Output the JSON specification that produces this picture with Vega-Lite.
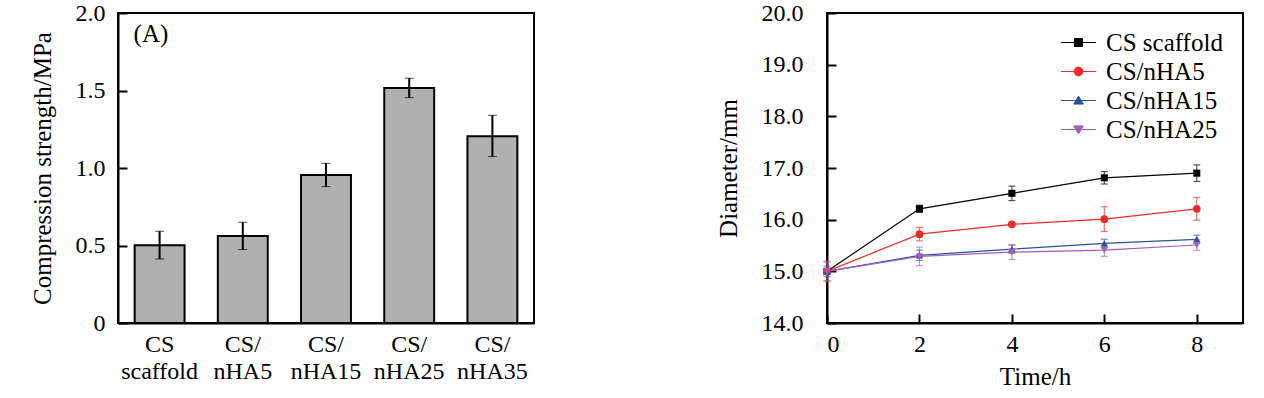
{
  "$schema": "https://vega.github.io/schema/vega-lite/v6.json",
  "padding": {"left": 29, "top": 0, "right": 0, "bottom": 0},
  "spacing": 180,
  "config": {
    "font": "Liberation Serif",
    "view": {"stroke": "black", "strokeWidth": 2},
    "axis": {
      "domainColor": "black", "domainWidth": 2,
      "tickColor": "black", "tickWidth": 2, "tickSize": -9,
      "labelColor": "black", "titleColor": "black",
      "labelFont": "Liberation Serif", "titleFont": "Liberation Serif",
      "labelFontSize": 24, "titleFontSize": 25, "titleFontWeight": "normal",
      "grid": false
    }
  },
  "hconcat": [
    {
      "width": 416,
      "height": 310,
      "data": {"values": [
        {"Group": "CS scaffold", "Strength": 0.501, "Lo": 0.413, "Hi": 0.592},
        {"Group": "CS/nHA5", "Strength": 0.561, "Lo": 0.474, "Hi": 0.65},
        {"Group": "CS/nHA15", "Strength": 0.955, "Lo": 0.88, "Hi": 1.03},
        {"Group": "CS/nHA25", "Strength": 1.516, "Lo": 1.454, "Hi": 1.579},
        {"Group": "CS/nHA35", "Strength": 1.205, "Lo": 1.074, "Hi": 1.34}
      ]},
      "layer": [
        {
          "mark": {"type": "bar", "fill": "#b0b0b0", "stroke": "black", "strokeWidth": 2},
          "encoding": {
            "x": {"field": "Group", "type": "nominal", "sort": null,
              "scale": {"paddingInner": 0.4, "paddingOuter": 0.2},
              "axis": {"title": null, "labelAngle": 0, "ticks": false, "labelPadding": 9,
                "labelFontSize": 24, "labelLineHeight": 27,
                "labelExpr": "datum.label == 'CS scaffold' ? ['CS', 'scaffold'] : ['CS/', substring(datum.label, 3)]"}},
            "y": {"field": "Strength", "type": "quantitative", "title": "Compression strength/MPa",
              "scale": {"domain": [0, 2]},
              "axis": {"values": [0, 0.5, 1, 1.5, 2],
                "labelExpr": "datum.value == 0 ? '0' : format(datum.value, '.1f')",
                "labelPadding": 22, "titlePadding": 20}}
          }
        },
        {
          "mark": {"type": "errorbar", "ticks": {"size": 9, "color": "black", "strokeWidth": 2}, "rule": {"color": "black", "strokeWidth": 2}},
          "encoding": {
            "x": {"field": "Group", "type": "nominal", "sort": null},
            "y": {"field": "Lo", "type": "quantitative", "title": "Compression strength/MPa"},
            "y2": {"field": "Hi"}
          }
        },
        {
          "data": {"values": [{"label": "(A)"}]},
          "mark": {"type": "text", "align": "left", "baseline": "middle", "fontSize": 25, "dx": -26, "color": "black"},
          "encoding": {
            "x": {"datum": "CS scaffold"},
            "y": {"datum": 1.863},
            "text": {"field": "label"}
          }
        }
      ]
    },
    {
      "width": 416,
      "height": 310,
      "data": {"values": [
        {"Series": "CS scaffold", "Time": 0, "D": 15.0, "Lo": 14.96, "Hi": 15.04},
        {"Series": "CS scaffold", "Time": 2, "D": 16.21, "Lo": 16.14, "Hi": 16.28},
        {"Series": "CS scaffold", "Time": 4, "D": 16.51, "Lo": 16.37, "Hi": 16.65},
        {"Series": "CS scaffold", "Time": 6, "D": 16.81, "Lo": 16.69, "Hi": 16.93},
        {"Series": "CS scaffold", "Time": 8, "D": 16.9, "Lo": 16.74, "Hi": 17.06},
        {"Series": "CS/nHA5", "Time": 0, "D": 15.0, "Lo": 14.82, "Hi": 15.18},
        {"Series": "CS/nHA5", "Time": 2, "D": 15.72, "Lo": 15.59, "Hi": 15.85},
        {"Series": "CS/nHA5", "Time": 4, "D": 15.91, "Lo": 15.88, "Hi": 15.94},
        {"Series": "CS/nHA5", "Time": 6, "D": 16.01, "Lo": 15.77, "Hi": 16.25},
        {"Series": "CS/nHA5", "Time": 8, "D": 16.21, "Lo": 15.99, "Hi": 16.43},
        {"Series": "CS/nHA15", "Time": 0, "D": 15.0, "Lo": 14.9, "Hi": 15.1},
        {"Series": "CS/nHA15", "Time": 2, "D": 15.31, "Lo": 15.21, "Hi": 15.41},
        {"Series": "CS/nHA15", "Time": 4, "D": 15.43, "Lo": 15.35, "Hi": 15.51},
        {"Series": "CS/nHA15", "Time": 6, "D": 15.54, "Lo": 15.46, "Hi": 15.62},
        {"Series": "CS/nHA15", "Time": 8, "D": 15.62, "Lo": 15.54, "Hi": 15.7},
        {"Series": "CS/nHA25", "Time": 0, "D": 15.0, "Lo": 14.8, "Hi": 15.2},
        {"Series": "CS/nHA25", "Time": 2, "D": 15.29, "Lo": 15.11, "Hi": 15.47},
        {"Series": "CS/nHA25", "Time": 4, "D": 15.37, "Lo": 15.23, "Hi": 15.51},
        {"Series": "CS/nHA25", "Time": 6, "D": 15.41, "Lo": 15.29, "Hi": 15.53},
        {"Series": "CS/nHA25", "Time": 8, "D": 15.51, "Lo": 15.41, "Hi": 15.61}
      ]},
      "layer": [
        {
          "mark": {"type": "line", "strokeWidth": 1.2},
          "encoding": {
            "x": {"field": "Time", "type": "quantitative", "title": "Time/h",
              "scale": {"domain": [0, 9]},
              "axis": {"values": [0, 2, 4, 6, 8], "labelPadding": 18, "titlePadding": 8}},
            "y": {"field": "D", "type": "quantitative", "title": "Diameter/mm",
              "scale": {"domain": [14, 20]},
              "axis": {"values": [14, 15, 16, 17, 18, 19, 20], "format": ".1f", "labelPadding": 33, "titlePadding": 20}},
            "color": {"field": "Series", "type": "nominal",
              "sort": ["CS scaffold", "CS/nHA5", "CS/nHA15", "CS/nHA25"],
              "scale": {"range": ["#000000", "#ee2a2a", "#2c4fa3", "#a45fb5"]},
              "legend": null}
          }
        },
        {
          "mark": {"type": "errorbar", "ticks": {"size": 7}, "opacity": 0.65, "thickness": 1.2},
          "encoding": {
            "x": {"field": "Time", "type": "quantitative", "title": "Time/h"},
            "y": {"field": "Lo", "type": "quantitative", "title": "Diameter/mm"},
            "y2": {"field": "Hi"},
            "color": {"field": "Series", "type": "nominal", "sort": ["CS scaffold", "CS/nHA5", "CS/nHA15", "CS/nHA25"], "legend": null}
          }
        },
        {
          "transform": [{"filter": "datum.Series == 'CS scaffold'"}],
          "mark": {"type": "point", "shape": "square", "filled": true, "size": 50, "opacity": 1},
          "encoding": {
            "x": {"field": "Time", "type": "quantitative", "title": "Time/h"},
            "y": {"field": "D", "type": "quantitative", "title": "Diameter/mm"},
            "color": {"field": "Series", "type": "nominal", "sort": ["CS scaffold", "CS/nHA5", "CS/nHA15", "CS/nHA25"], "legend": null}
          }
        },
        {
          "transform": [{"filter": "datum.Series == 'CS/nHA5'"}],
          "mark": {"type": "point", "shape": "circle", "filled": true, "size": 60, "opacity": 1},
          "encoding": {
            "x": {"field": "Time", "type": "quantitative", "title": "Time/h"},
            "y": {"field": "D", "type": "quantitative", "title": "Diameter/mm"},
            "color": {"field": "Series", "type": "nominal", "sort": ["CS scaffold", "CS/nHA5", "CS/nHA15", "CS/nHA25"], "legend": null}
          }
        },
        {
          "transform": [{"filter": "datum.Series == 'CS/nHA15'"}],
          "mark": {"type": "point", "shape": "triangle-up", "filled": true, "size": 55, "opacity": 1},
          "encoding": {
            "x": {"field": "Time", "type": "quantitative", "title": "Time/h"},
            "y": {"field": "D", "type": "quantitative", "title": "Diameter/mm"},
            "color": {"field": "Series", "type": "nominal", "sort": ["CS scaffold", "CS/nHA5", "CS/nHA15", "CS/nHA25"], "legend": null}
          }
        },
        {
          "transform": [{"filter": "datum.Series == 'CS/nHA25'"}],
          "mark": {"type": "point", "shape": "triangle-down", "filled": true, "size": 55, "opacity": 1},
          "encoding": {
            "x": {"field": "Time", "type": "quantitative", "title": "Time/h"},
            "y": {"field": "D", "type": "quantitative", "title": "Diameter/mm"},
            "color": {"field": "Series", "type": "nominal", "sort": ["CS scaffold", "CS/nHA5", "CS/nHA15", "CS/nHA25"], "legend": null}
          }
        },
        {
          "transform": [{"filter": "datum.Time < 0"}],
          "mark": {"type": "point", "filled": false, "opacity": 1},
          "encoding": {
            "fill": {"field": "Series", "type": "nominal",
              "scale": {"domain": ["CS scaffold", "CS/nHA5", "CS/nHA15", "CS/nHA25"], "range": ["#000000", "#ee2a2a", "#2c4fa3", "#a45fb5"]},
              "legend": {"title": null, "orient": "none", "legendX": 948, "legendY": 17, "padding": 0, "labelFontSize": 25, "labelFont": "Liberation Serif", "labelColor": "black", "symbolSize": 64, "symbolStrokeWidth": 1, "labelOffset": 15, "rowPadding": 3}},
            "stroke": {"field": "Series", "type": "nominal",
              "scale": {"domain": ["CS scaffold", "CS/nHA5", "CS/nHA15", "CS/nHA25"], "range": ["#000000", "#ee2a2a", "#2c4fa3", "#a45fb5"]},
              "legend": {"title": null, "orient": "none", "legendX": 948, "legendY": 17, "padding": 0, "labelFontSize": 25, "labelFont": "Liberation Serif", "labelColor": "black", "symbolSize": 64, "symbolStrokeWidth": 1, "labelOffset": 15, "rowPadding": 3}},
            "shape": {"field": "Series", "type": "nominal",
              "scale": {"domain": ["CS scaffold", "CS/nHA5", "CS/nHA15", "CS/nHA25"], "range": [
                "M-4.4,0H4.4M-1,-1H1V1H-1Z",
                "M-4.4,0H4.4M1.1,0A1.1,1.1,0,1,1,-1.1,0A1.1,1.1,0,1,1,1.1,0Z",
                "M-4.4,0H4.4M0,-1.1L1.2,0.9H-1.2Z",
                "M-4.4,0H4.4M0,1.1L1.2,-0.9H-1.2Z"
              ]},
              "legend": {"title": null, "orient": "none", "legendX": 948, "legendY": 17, "padding": 0, "labelFontSize": 25, "labelFont": "Liberation Serif", "labelColor": "black", "symbolSize": 64, "symbolStrokeWidth": 1, "labelOffset": 15, "rowPadding": 3}}
          }
        }
      ]
    }
  ]
}
